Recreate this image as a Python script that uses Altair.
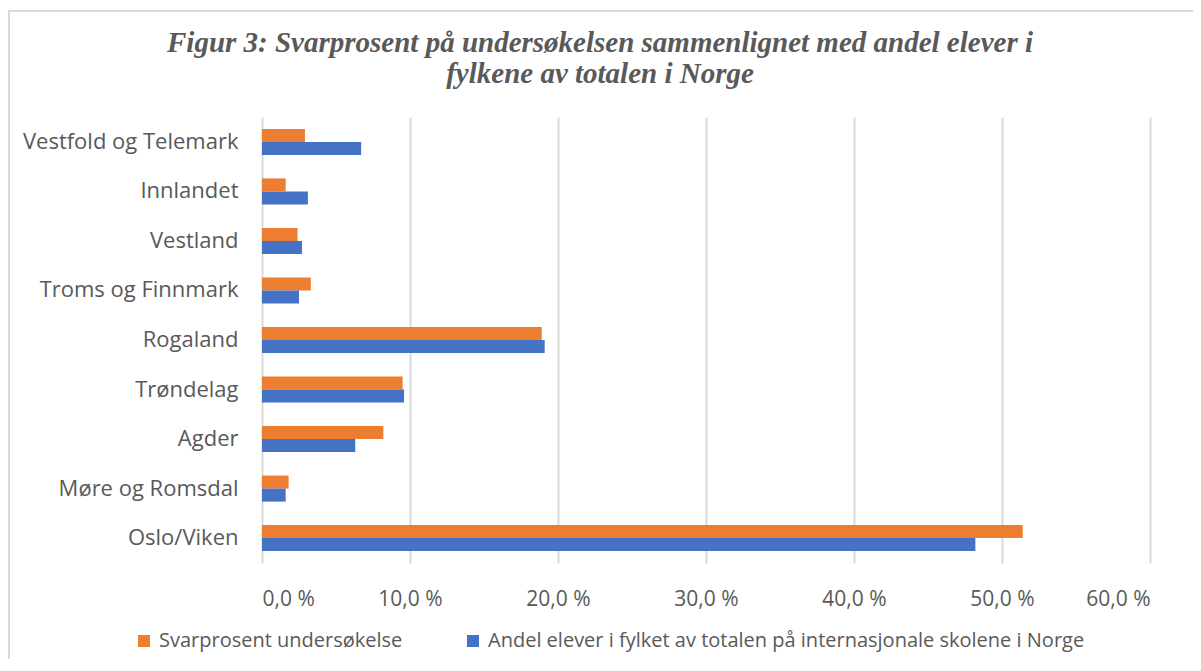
import altair as alt
import pandas as pd

fylker = ["Vestfold og Telemark", "Innlandet", "Vestland", "Troms og Finnmark",
          "Rogaland", "Trøndelag", "Agder", "Møre og Romsdal", "Oslo/Viken"]
svarprosent = [2.9, 1.6, 2.4, 3.3, 18.9, 9.5, 8.2, 1.8, 51.4]
andel_elever = [6.7, 3.1, 2.7, 2.5, 19.1, 9.6, 6.3, 1.6, 48.2]
serier = ["Svarprosent undersøkelse",
          "Andel elever i fylket av totalen på internasjonale skolene i Norge"]
farger = ["#ED7D31", "#4472C4"]
x_ticks = [0, 10, 20, 30, 40, 50, 60]

rows = []
for f, a, b in zip(fylker, svarprosent, andel_elever):
    rows.append({"fylke": f, "serie": serier[0], "verdi": a})
    rows.append({"fylke": f, "serie": serier[1], "verdi": b})
df = pd.DataFrame(rows)

LABEL_FONT = "Open Sans"
TEXT_COLOR = "#595959"

bars = alt.Chart(df).mark_bar(stroke=None).encode(
    x=alt.X("verdi:Q",
            scale=alt.Scale(domain=[0, 60], nice=False),
            axis=alt.Axis(values=x_ticks, title=None, grid=True, gridColor="#d9d9d9",
                          gridWidth=2, domain=False, ticks=False,
                          labelExpr="replace(format(datum.value, '.1f'), '.', ',') + ' %'",
                          labelFont=LABEL_FONT, labelFontSize=21, labelColor=TEXT_COLOR,
                          labelPadding=25)),
    y=alt.Y("fylke:N", sort=fylker,
            scale=alt.Scale(paddingInner=0.475, paddingOuter=0.24),
            axis=alt.Axis(title=None, domain=False, ticks=False, grid=False,
                          labelFont=LABEL_FONT, labelFontSize=22, labelColor=TEXT_COLOR,
                          labelPadding=24, labelLimit=400)),
    yOffset=alt.YOffset("serie:N", sort=serier, scale=alt.Scale(paddingInner=0, paddingOuter=0)),
    color=alt.Color("serie:N", sort=serier,
                    scale=alt.Scale(domain=serier, range=farger),
                    legend=alt.Legend(title=None, orient="none", direction="horizontal",
                                      legendX=-128, legendY=514,
                                      symbolType="square", symbolSize=144,
                                      symbolStrokeWidth=0,
                                      labelFont=LABEL_FONT, labelFontSize=20,
                                      labelColor=TEXT_COLOR, columnPadding=60,
                                      labelLimit=800, labelOffset=5)),
)

frame = pd.DataFrame({"k": [0]})
top_line = alt.Chart(frame).mark_rule(color="#d9d9d9", strokeWidth=2, clip=False).encode(
    x=alt.value(-254), x2=alt.value(940), y=alt.value(-106))
left_line = alt.Chart(frame).mark_rule(color="#d9d9d9", strokeWidth=2, clip=False).encode(
    x=alt.value(-253), y=alt.value(-106), y2=alt.value(560))

chart = alt.layer(bars, top_line, left_line).properties(
    width=888,
    height=446,
    title=alt.TitleParams(
        ["Figur 3: Svarprosent på undersøkelsen sammenlignet med andel elever i",
         "fylkene av totalen i Norge"],
        font="Liberation Serif", fontSize=29, fontStyle="italic", fontWeight="bold",
        color=TEXT_COLOR, anchor="middle", frame="group", dx=-106, offset=-79,
        lineHeight=31),
    padding={"left": 254, "top": 109, "right": 43, "bottom": 96},
    autosize=alt.AutoSizeParams(type="none"),
).configure(background="white").configure_view(stroke=None)

chart.save("out.html", embed_options={"renderer": "svg", "actions": False})
